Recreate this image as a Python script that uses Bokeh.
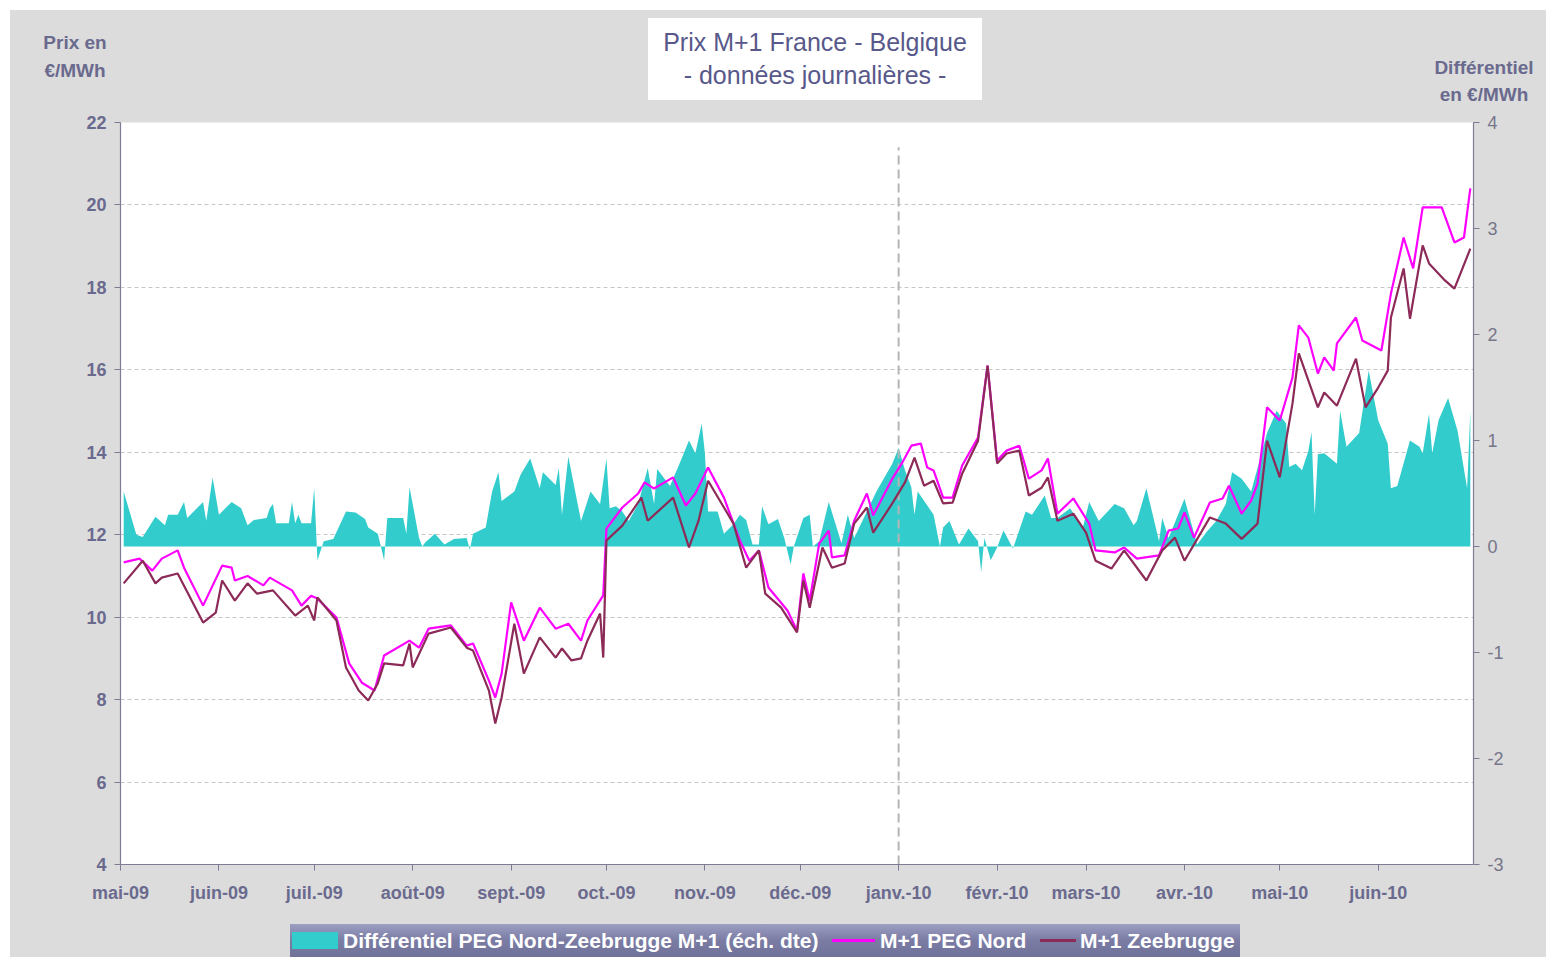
import numpy as np
import pandas as pd
from bokeh.plotting import figure
from bokeh.layouts import column, row
from bokeh.models import (Range1d, LinearAxis, FixedTicker, ColumnDataSource, Div)
from bokeh.embed import file_html
from bokeh.resources import INLINE

# ---------------- data ----------------
title_line1 = "Prix M+1 France - Belgique"
title_line2 = "- données journalières -"
left_title = ["Prix en", "€/MWh"]
right_title = ["Différentiel", "en €/MWh"]
legend_labels = ["Différentiel PEG Nord-Zeebrugge M+1 (éch. dte)", "M+1 PEG Nord", "M+1 Zeebrugge"]
series_colors = ["#33cccc", "#ff00ff", "#8c2a58"]

start_date = "2009-05-01"
end_date = "2010-07-01"
year_break = "2010-01-01"

month_starts = ["2009-05-01", "2009-06-01", "2009-07-01", "2009-08-01", "2009-09-01",
                "2009-10-01", "2009-11-01", "2009-12-01", "2010-01-01", "2010-02-01",
                "2010-03-01", "2010-04-01", "2010-05-01", "2010-06-01"]
month_labels = ["mai-09", "juin-09", "juil.-09", "août-09", "sept.-09", "oct.-09",
                "nov.-09", "déc.-09", "janv.-10", "févr.-10", "mars-10", "avr.-10",
                "mai-10", "juin-10"]

left_ticks = [4, 6, 8, 10, 12, 14, 16, 18, 20, 22]
right_ticks = [-3, -2, -1, 0, 1, 2, 3, 4]

# days after 2009-05-01
peg_day = [1, 6, 10, 13, 18, 20, 26, 32, 35, 36,
           40, 45, 47, 54, 57, 60, 62, 68, 72, 76,
           80, 83, 91, 94, 97, 104, 109, 111, 116, 118,
           120, 123, 127, 132, 137, 141, 145, 147, 152, 153,
           158, 163, 165, 168, 174, 178, 181, 185, 190, 195,
           198, 201, 204, 210, 213, 215, 217, 220, 223, 224,
           228, 231, 235, 237, 243, 246, 249, 252, 254, 256,
           259, 262, 265, 270, 273, 276, 279, 283, 286, 290,
           292, 295, 300, 305, 307, 313, 316, 320, 327, 330,
           333, 335, 338, 343, 347, 349, 353, 356, 358, 361,
           365, 369, 371, 374, 377, 379, 382, 383, 389, 391,
           397, 400, 404, 407, 410, 416, 420, 423, 425]
peg_val = [11.33, 11.42, 11.13, 11.42, 11.62, 11.2, 10.28, 11.25, 11.2, 10.89,
           11.0, 10.77, 10.96, 10.65, 10.28, 10.52, 10.45, 9.99, 8.88, 8.41,
           8.22, 9.07, 9.43, 9.26, 9.72, 9.8, 9.31, 9.36, 8.46, 8.05,
           8.63, 10.36, 9.43, 10.23, 9.72, 9.84, 9.43, 9.92, 10.53, 12.15,
           12.66, 13.0, 13.27, 13.12, 13.39, 12.71, 13.0, 13.63, 12.9, 11.86,
           11.37, 11.62, 10.72, 10.16, 9.67, 11.06, 10.4, 11.79, 12.1, 11.45,
           11.5, 12.34, 13.0, 12.47, 13.36, 13.73, 14.16, 14.21, 13.63, 13.56,
           12.9, 12.9, 13.68, 14.36, 16.1, 13.8, 14.04, 14.16, 13.36, 13.56,
           13.85, 12.51, 12.88, 12.27, 11.62, 11.57, 11.69, 11.42, 11.5, 12.1,
           12.15, 12.54, 11.93, 12.78, 12.88, 13.19, 12.51, 12.83, 13.24, 15.09,
           14.77, 15.81, 17.08, 16.78, 15.91, 16.3, 15.98, 16.64, 17.27, 16.71,
           16.47, 17.85, 19.21, 18.46, 19.94, 19.94, 19.09, 19.21, 20.4]

zee_day = [1, 7, 11, 13, 18, 26, 30, 32, 36, 40,
           43, 48, 55, 59, 61, 62, 68, 71, 75, 78,
           81, 83, 89, 91, 92, 97, 104, 109, 111, 116,
           118, 120, 124, 127, 132, 137, 139, 142, 145, 147,
           151, 152, 153, 158, 164, 166, 174, 179, 182, 185,
           190, 193, 197, 201, 203, 208, 213, 215, 217, 221,
           224, 228, 231, 235, 237, 243, 247, 250, 253, 256,
           259, 262, 265, 270, 273, 276, 279, 283, 286, 290,
           292, 295, 300, 304, 307, 312, 316, 323, 328, 332,
           335, 343, 348, 353, 358, 361, 365, 369, 371, 377,
           379, 383, 389, 392, 396, 399, 400, 404, 406, 410,
           412, 417, 420, 425]
zee_val = [10.82, 11.37, 10.82, 10.96, 11.06, 9.87, 10.11, 10.89, 10.4, 10.82,
           10.57, 10.65, 10.04, 10.28, 9.92, 10.48, 9.92, 8.78, 8.22, 7.98,
           8.39, 8.88, 8.83, 9.36, 8.78, 9.6, 9.75, 9.26, 9.19, 8.22,
           7.42, 8.05, 9.84, 8.63, 9.51, 9.02, 9.24, 8.95, 9.0, 9.43,
           10.09, 9.02, 11.86, 12.22, 12.9, 12.34, 12.9, 11.69, 12.34, 13.31,
           12.66, 12.27, 11.2, 11.62, 10.57, 10.23, 9.63, 10.89, 10.23, 11.69,
           11.2, 11.3, 12.27, 12.66, 12.05, 12.76, 13.27, 13.87, 13.19, 13.31,
           12.76, 12.78, 13.48, 14.28, 16.1, 13.73, 13.97, 14.04, 12.95, 13.14,
           13.39, 12.34, 12.51, 12.05, 11.37, 11.18, 11.62, 10.89, 11.62, 11.93,
           11.37, 12.42, 12.27, 11.9, 12.27, 14.28, 13.39, 15.18, 16.4, 15.09,
           15.45, 15.13, 16.27, 15.09, 15.57, 15.98, 17.27, 18.46, 17.24, 19.02,
           18.58, 18.17, 17.97, 18.94]

diff_day = [1, 5, 7, 11, 14, 15, 18, 20, 21, 26,
            27, 29, 31, 35, 38, 40, 42, 46, 47, 48,
            49, 53, 54, 55, 56, 57, 60, 61, 62, 64,
            67, 71, 74, 77, 78, 81, 82, 83, 84, 89,
            90, 91, 94, 95, 96, 99, 102, 105, 109, 110,
            111, 115, 117, 119, 120, 124, 126, 129, 132, 133,
            137, 138, 139, 141, 145, 148, 151, 153, 154, 156,
            158, 160, 163, 166, 168, 169, 173, 176, 179, 181,
            183, 184, 185, 188, 190, 193, 195, 197, 199, 201,
            202, 204, 207, 209, 211, 212, 215, 217, 218, 220,
            223, 227, 229, 231, 235, 238, 243, 245, 247, 249,
            250, 251, 256, 258, 259, 261, 264, 267, 270, 271,
            272, 274, 276, 278, 281, 285, 287, 291, 293, 295,
            299, 303, 305, 308, 313, 316, 319, 320, 323, 327,
            328, 330, 335, 339, 342, 345, 348, 350, 353, 356,
            358, 361, 364, 367, 368, 370, 372, 374, 375, 376,
            377, 379, 383, 384, 386, 390, 393, 396, 399, 400,
            402, 406, 409, 410, 412, 413, 415, 418, 421, 424,
            425]
diff_val = [0.52, 0.11, 0.09, 0.28, 0.2, 0.3, 0.3, 0.42, 0.27, 0.42,
            0.24, 0.65, 0.3, 0.42, 0.36, 0.2, 0.25, 0.27, 0.36, 0.4,
            0.22, 0.22, 0.42, 0.22, 0.3, 0.22, 0.22, 0.55, -0.13, 0.05,
            0.07, 0.33, 0.32, 0.26, 0.18, 0.12, 0.0, -0.13, 0.27, 0.27,
            0.12, 0.56, 0.08, 0.0, 0.04, 0.12, 0.02, 0.07, 0.08, -0.03,
            0.12, 0.18, 0.52, 0.7, 0.43, 0.52, 0.68, 0.83, 0.55, 0.7,
            0.58, 0.74, 0.3, 0.85, 0.24, 0.52, 0.4, 0.83, 0.36, 0.38,
            0.33, 0.24, 0.4, 0.74, 0.4, 0.73, 0.57, 0.78, 1.0, 0.88,
            1.16, 0.88, 0.33, 0.33, 0.12, 0.21, 0.3, 0.25, 0.02, 0.02,
            0.38, 0.21, 0.26, 0.08, -0.17, 0.0, 0.27, 0.3, 0.0, 0.05,
            0.42, 0.03, 0.3, 0.08, 0.33, 0.52, 0.78, 0.93, 0.72, 0.56,
            0.3, 0.52, 0.3, 0.0, 0.18, 0.24, 0.02, 0.17, 0.05, -0.24,
            0.08, -0.13, -0.01, 0.15, -0.02, 0.33, 0.3, 0.48, 0.27, 0.27,
            0.36, 0.18, 0.42, 0.24, 0.4, 0.36, 0.2, 0.24, 0.55, 0.05,
            0.27, 0.08, 0.45, 0.02, 0.14, 0.24, 0.4, 0.7, 0.64, 0.52,
            0.74, 1.07, 1.28, 1.16, 0.75, 0.78, 0.72, 0.9, 1.08, 0.3,
            0.87, 0.88, 0.78, 1.28, 0.94, 1.07, 1.66, 1.19, 0.97, 0.55,
            0.57, 1.0, 0.94, 0.88, 1.25, 0.88, 1.19, 1.4, 1.09, 0.55,
            1.28]

assert len(peg_day) == len(peg_val)
assert len(zee_day) == len(zee_val)
assert len(diff_day) == len(diff_val)

t0 = pd.Timestamp(start_date)


def to_dates(days):
    return t0 + pd.to_timedelta(np.array(days), unit="D")


peg_src = ColumnDataSource(dict(x=to_dates(peg_day), y=peg_val))
zee_src = ColumnDataSource(dict(x=to_dates(zee_day), y=zee_val))
diff_src = ColumnDataSource(dict(x=to_dates(diff_day), y=diff_val, z=[0.0] * len(diff_val)))

# ---------------- style ----------------
TXT = "#6a6a8e"
FONT = "Liberation Sans"
AX = "#7c7c94"
BG = "#dcdcdc"
W = 1546
STRIP = 10
HEAD_H = 110
FOOT_H = 40
FIG_H = 957 - HEAD_H - FOOT_H

# header: chart title and axis titles
header_html = f"""
<div style="position:relative;width:{W}px;height:{HEAD_H}px;background:{BG};font-family:'{FONT}';">
  <div style="position:absolute;left:0px;top:0px;width:{W}px;height:10px;background:white;"></div>
  <div style="position:absolute;left:0px;top:0px;width:{STRIP}px;height:{HEAD_H}px;background:white;"></div>
  <div style="position:absolute;left:0px;top:29px;width:150px;text-align:center;color:{TXT};
              font-weight:bold;font-size:19px;line-height:28px;">{left_title[0]}<br>{left_title[1]}</div>
  <div style="position:absolute;left:648px;top:18px;width:334px;height:82px;background:white;
              box-sizing:border-box;padding-top:8px;text-align:center;color:#58588a;
              font-size:25px;line-height:33px;">{title_line1}<br>{title_line2}</div>
  <div style="position:absolute;left:1418px;top:54px;width:132px;text-align:center;color:{TXT};
              font-weight:bold;font-size:19px;line-height:27px;">{right_title[0]}<br>{right_title[1]}</div>
</div>
"""
header = Div(text=header_html, width=W, height=HEAD_H, margin=0)

# footer: legend
footer_html = f"""
<div style="position:relative;width:{W}px;height:{FOOT_H}px;background:{BG};font-family:'{FONT}';overflow:hidden;">
  <div style="position:absolute;left:0px;top:0px;width:{STRIP}px;height:{FOOT_H}px;background:white;"></div>
  <div style="position:absolute;left:290px;top:7px;width:950px;height:36px;
              background:linear-gradient(#9c9ec2,#7a7ca4 45%,#6e7098);
              color:white;font-weight:bold;font-size:21px;line-height:33px;white-space:nowrap;">
    <div style="position:absolute;left:2px;top:8px;width:46px;height:17px;background:{series_colors[0]};"></div>
    <div style="position:absolute;left:53px;top:0px;">{legend_labels[0]}</div>
    <div style="position:absolute;left:542px;top:15px;width:43px;height:3px;background:{series_colors[1]};"></div>
    <div style="position:absolute;left:590px;top:0px;">{legend_labels[1]}</div>
    <div style="position:absolute;left:750px;top:15px;width:36px;height:3px;background:{series_colors[2]};"></div>
    <div style="position:absolute;left:790px;top:0px;">{legend_labels[2]}</div>
  </div>
</div>
"""
footer = Div(text=footer_html, width=W, height=FOOT_H, margin=0)

strip = Div(text="", width=STRIP, height=FIG_H, margin=0,
            styles={"background-color": "white"})

p = figure(width=W - STRIP, height=FIG_H, x_axis_type="datetime",
           x_range=Range1d(pd.Timestamp(start_date), pd.Timestamp(end_date)),
           y_range=Range1d(left_ticks[0], left_ticks[-1]),
           output_backend="svg", toolbar_location=None,
           min_border_left=120 - STRIP, min_border_right=73,
           min_border_top=12, min_border_bottom=FIG_H - 12 - 742, margin=0)
p.extra_y_ranges = {"diff": Range1d(right_ticks[0], right_ticks[-1])}

p.background_fill_color = "white"
p.border_fill_color = BG
p.outline_line_color = None

p.xgrid.grid_line_color = None
p.ygrid.ticker = FixedTicker(ticks=left_ticks)
p.ygrid.grid_line_color = "#c6c6c6"
p.ygrid.grid_line_dash = "4 3"
p.ygrid.grid_line_width = 1

p.varea(x="x", y1="z", y2="y", source=diff_src, y_range_name="diff",
        fill_color=series_colors[0], fill_alpha=1.0)

yb = pd.Timestamp(year_break)
p.segment(x0=[yb], y0=[left_ticks[0]], x1=[yb], y1=[21.4],
          line_color="#b5b5b5", line_width=2, line_dash="9 5")

p.line(x="x", y="y", source=peg_src, line_color=series_colors[1], line_width=2.2)
p.line(x="x", y="y", source=zee_src, line_color=series_colors[2], line_width=2.2)

# axes
tick_ms = [int(pd.Timestamp(s).value // 10**6) for s in month_starts]
p.xaxis.ticker = FixedTicker(ticks=tick_ms)
p.xaxis.major_label_overrides = {ms: lab for ms, lab in zip(tick_ms, month_labels)}
p.xaxis.major_label_standoff = 12

p.yaxis.ticker = FixedTicker(ticks=left_ticks)
p.yaxis.major_label_standoff = 8

right_axis = LinearAxis(y_range_name="diff", ticker=FixedTicker(ticks=right_ticks),
                        major_label_standoff=8,
                        major_label_overrides={t: str(t) for t in right_ticks})
p.add_layout(right_axis, "right")

for ax in [p.xaxis[0], p.yaxis[0], right_axis]:
    ax.axis_line_color = AX
    ax.axis_line_width = 1.2
    ax.major_tick_line_color = AX
    ax.major_tick_out = 6
    ax.major_tick_in = 0
    ax.minor_tick_line_color = None
    ax.major_label_text_font = FONT
    ax.major_label_text_font_style = "bold"
    ax.major_label_text_color = TXT
    ax.major_label_text_font_size = "18px"
right_axis.major_label_text_font_style = "normal"
right_axis.major_label_text_color = "#76768a"

body = row(strip, p, spacing=0, margin=0)
layout = column(header, body, footer, spacing=0, margin=0, styles={"background-color": BG})
open("out.html", "w").write(file_html(layout, INLINE))
